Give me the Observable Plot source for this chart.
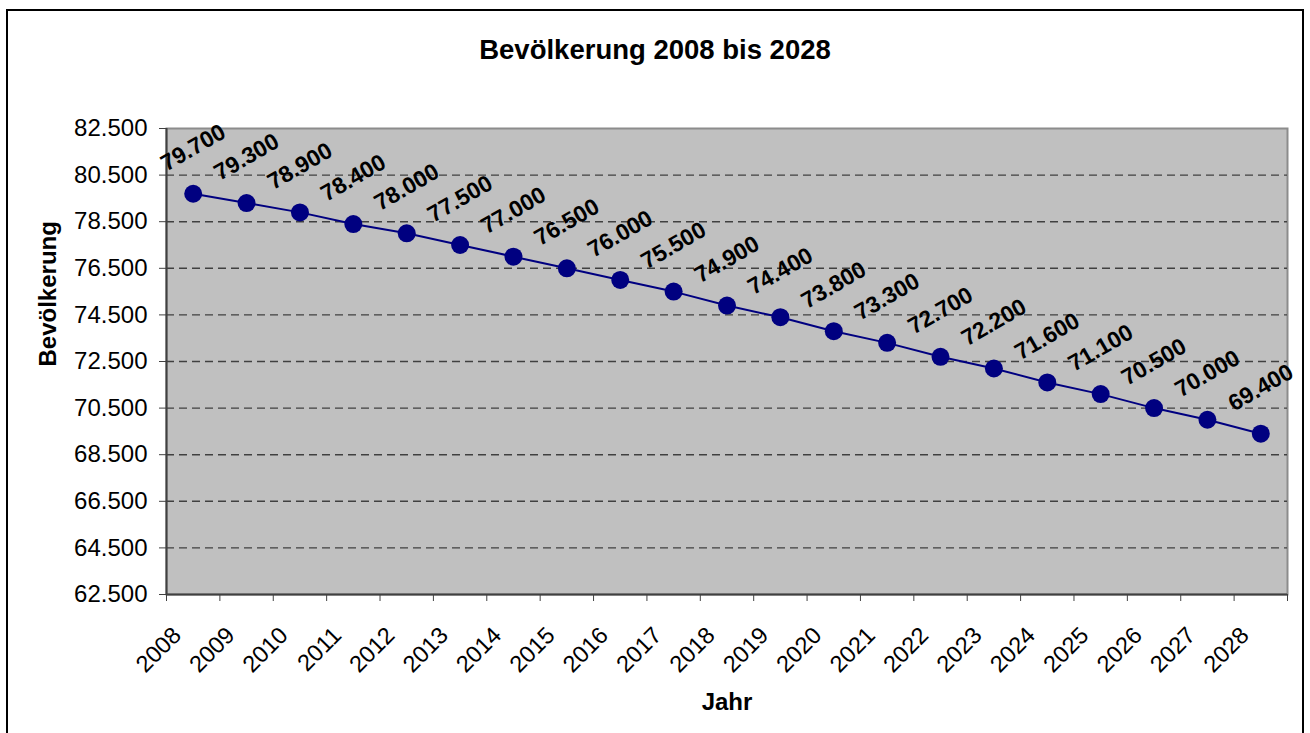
<!DOCTYPE html>
<html>
<head>
<meta charset="utf-8">
<script src="https://cdn.jsdelivr.net/npm/d3@7"></script>
<script src="https://cdn.jsdelivr.net/npm/@observablehq/plot@0.6"></script>
<style>
  html, body { margin: 0; padding: 0; background: #fff; }
  body { font-family: "Liberation Sans", Arial, sans-serif; width: 1310px; height: 733px; overflow: hidden; position: relative; }
  #frame { position: absolute; left: 6px; top: 9px; width: 1298px; height: 800px; border: 2px solid #000; box-sizing: border-box; pointer-events: none; }
  #title { margin: 0; padding-top: 34px; height: 66px; text-align: center; font-size: 27.5px; font-weight: bold; line-height: normal; color: #000; }
  #chart svg { display: block; }
</style>
</head>
<body>
<div id="title">Bevölkerung 2008 bis 2028</div>
<div id="chart"></div>
<div id="frame"></div>
<script>
const years = [2008, 2009, 2010, 2011, 2012, 2013, 2014, 2015, 2016, 2017, 2018, 2019, 2020, 2021, 2022, 2023, 2024, 2025, 2026, 2027, 2028];
const population = [79700, 79300, 78900, 78400, 78000, 77500, 77000, 76500, 76000, 75500, 74900, 74400, 73800, 73300, 72700, 72200, 71600, 71100, 70500, 70000, 69400];
const yTicks = [62500, 64500, 66500, 68500, 70500, 72500, 74500, 76500, 78500, 80500, 82500];
const xLabel = "Jahr";
const yLabel = "Bevölkerung";

const data = years.map((year, i) => ({year, value: population[i]}));
const boundaries = [...years.map(y => y - 0.5), years[years.length - 1] + 0.5];
const de = d3.formatLocale({decimal: ",", thousands: ".", grouping: [3], currency: ["", " €"]});
const fmt = de.format(",d");

const chart = Plot.plot({
  width: 1310,
  height: 633,
  marginTop: 28,
  marginBottom: 139,
  marginLeft: 166,
  marginRight: 23,
  style: {fontFamily: '"Liberation Sans", Arial, sans-serif', fontSize: "24px", color: "#000", background: "transparent"},
  x: {type: "linear", domain: [boundaries[0], boundaries[boundaries.length - 1]]},
  y: {domain: [yTicks[0], yTicks[yTicks.length - 1]]},
  marks: [
    Plot.frame({fill: "#c0c0c0", stroke: "#8c8c8c", strokeWidth: 2}),
    Plot.ruleY(yTicks.slice(1, -1), {stroke: "#404040", strokeWidth: 1.4, strokeDasharray: "8,5"}),
    Plot.ruleX([boundaries[0]], {stroke: "#404040", strokeWidth: 2}),
    Plot.ruleY([yTicks[0]], {stroke: "#404040", strokeWidth: 2}),
    Plot.axisY(yTicks, {tickSize: 7, tickPadding: 12, tickFormat: fmt, fontSize: 24, label: null, stroke: "#404040", fill: "#000"}),
    Plot.axisX(boundaries, {tickSize: 7, tickFormat: () => "", label: null, stroke: "#404040"}),
    Plot.text(years, {x: d => d, text: d => String(d), frameAnchor: "bottom", dy: 37, dx: -16, rotate: -45, textAnchor: "end", lineAnchor: "middle", fontSize: 23.5, fill: "#000"}),
    Plot.text([xLabel], {frameAnchor: "bottom", dy: 115, lineAnchor: "bottom", fontSize: 24, fontWeight: "bold", fill: "#000"}),
    Plot.text([yLabel], {frameAnchor: "left", dx: -118, dy: 5, rotate: -90, fontSize: 24, fontWeight: "bold", fill: "#000"}),
    Plot.line(data, {x: "year", y: "value", stroke: "#000080", strokeWidth: 2}),
    Plot.dot(data, {x: "year", y: "value", r: 9, fill: "#000080", stroke: "none"}),
    Plot.text(data, {x: "year", y: "value", text: d => fmt(d.value), rotate: -30, dy: -46, fontSize: 23, fontWeight: "bold", fill: "#000"})
  ]
});
document.getElementById("chart").appendChild(chart);
</script>
</body>
</html>
